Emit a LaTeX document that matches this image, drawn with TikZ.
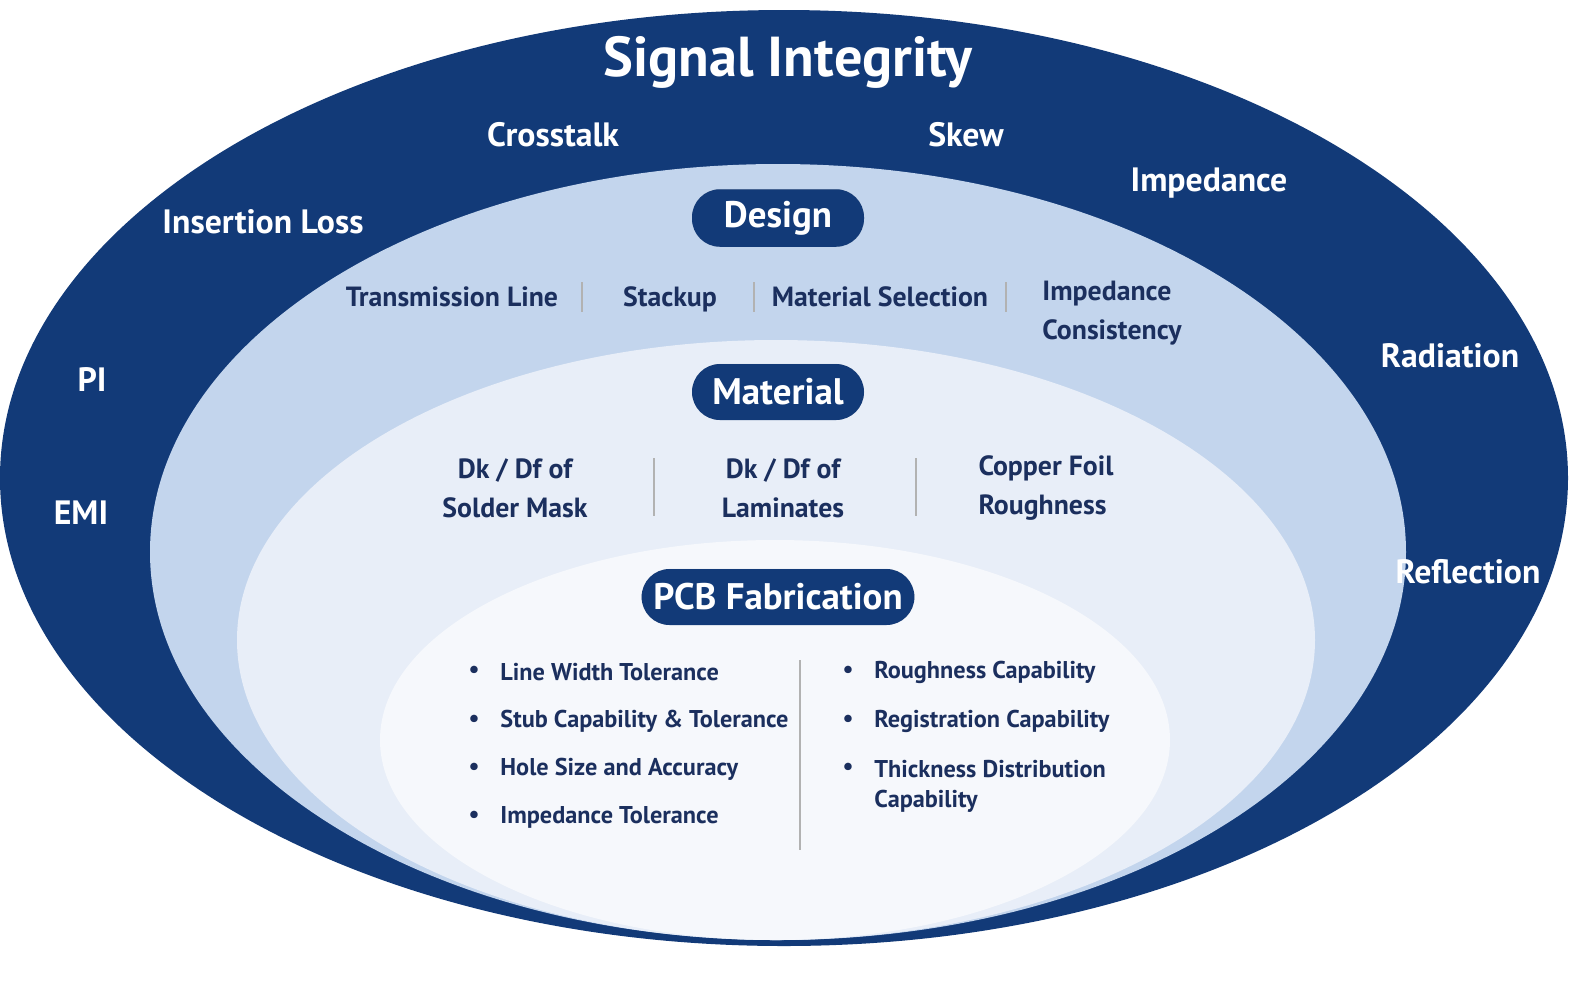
\documentclass[tikz,border=0pt]{standalone}
\usepackage{fontspec}
\setmainfont{PT Sans}
\usetikzlibrary{shadows}
\definecolor{navy}{HTML}{123A78}
\definecolor{ink}{HTML}{1B2F5E}
\definecolor{ringtwo}{HTML}{C3D5ED}
\definecolor{ringthree}{HTML}{E8EEF8}
\definecolor{ringfour}{HTML}{F6F8FC}
\tikzset{
  pill/.style={fill=navy, text=white, rounded corners=28*0.01cm, minimum height=56*0.01cm,
    font=\bfseries\fontsize{10.5}{12}\selectfont, drop shadow={opacity=0.35, shadow xshift=0.05, shadow yshift=-0.07}},
  outer/.style={text=white, font=\bfseries\fontsize{9.6}{12}\selectfont},
  item/.style={text=ink, font=\bfseries\fontsize{7.9}{11}\selectfont, align=left},
  line/.style={item, text height=1.6ex, text depth=0.4ex},
  bul/.style={text=ink, font=\bfseries\fontsize{6.9}{9.5}\selectfont, anchor=west},
  sep/.style={draw=gray!60, line width=0.6pt}
}
\begin{document}
\begin{tikzpicture}[x=0.01cm,y=-0.01cm]
  \useasboundingbox (0,0) rectangle (1584,993);
  \fill[white] (0,0) rectangle (1584,993);

  % Anneaux
  \fill[navy] (784,478) ellipse [x radius=784, y radius=468];
  \fill[ringtwo] (778,552) ellipse [x radius=628, y radius=388];
  \fill[ringthree] (776,640) ellipse [x radius=539, y radius=300];
  \fill[ringfour] (775,740) ellipse [x radius=395, y radius=200];

  % Anneau extérieur
  \node[outer, font=\bfseries\fontsize{16}{19}\selectfont] (si) at (788,62) {Signal Integrity};
  \node[outer] (xt) at (553,135) {Crosstalk};
  \node[outer] (sk) at (966,135) {Skew};
  \node[outer] (imp) at (1209,183) {Impedance};
  \node[outer] (il) at (263,222) {Insertion Loss};
  \node[outer] (pi) at (92,380) {PI};
  \node[outer] (emi) at (81,513) {EMI};
  \node[outer] (rad) at (1450,356) {Radiation};
  \node[outer] (refl) at (1468,572) {Reflection};

  % Design
  \node[pill, minimum width=172*0.01cm] (design) at (778,218) {Design};
  \node[line] (tl) at (452,296) {Transmission Line};
  \node[line] (st) at (670,296) {Stackup};
  \node[line] (ms) at (880,296) {Material Selection};
  \node[item, anchor=west] (ic) at (1030,313) {Impedance\\Consistency};
  \foreach \x in {582,754,1006}
    \draw[sep] (\x,282) -- (\x,312);

  % Material
  \node[pill, minimum width=172*0.01cm] (material) at (778,392) {Material};
  \node[item, align=center] (sm) at (515,488) {Dk / Df of\\Solder Mask};
  \node[item, align=center] (lam) at (783,488) {Dk / Df of\\Laminates};
  \node[item] (cf) at (1046,488) {Copper Foil\\Roughness};
  \foreach \x in {654,916}
    \draw[sep] (\x,458) -- (\x,516);

  % Fabrication
  \node[pill, minimum width=268*0.01cm] (pcb) at (778,597) {PCB Fabrication};
  \draw[sep] (800,660) -- (800,850);
  \foreach \t/\y in {Line Width Tolerance/672, Stub Capability \& Tolerance/721,
                     Hole Size and Accuracy/769, Impedance Tolerance/817}{
    \node[bul, anchor=center] at (474,\y) {•};
    \node[bul] at (488,\y) {\t};
  }
  \foreach \t/\y in {Roughness Capability/672, Registration Capability/721,
                     Thickness Distribution/769}{
    \node[bul, anchor=center] at (848,\y) {•};
    \node[bul] at (862,\y) {\t};
  }
  \node[bul] (cap) at (862,801) {Capability};
\end{tikzpicture}
\end{document}
